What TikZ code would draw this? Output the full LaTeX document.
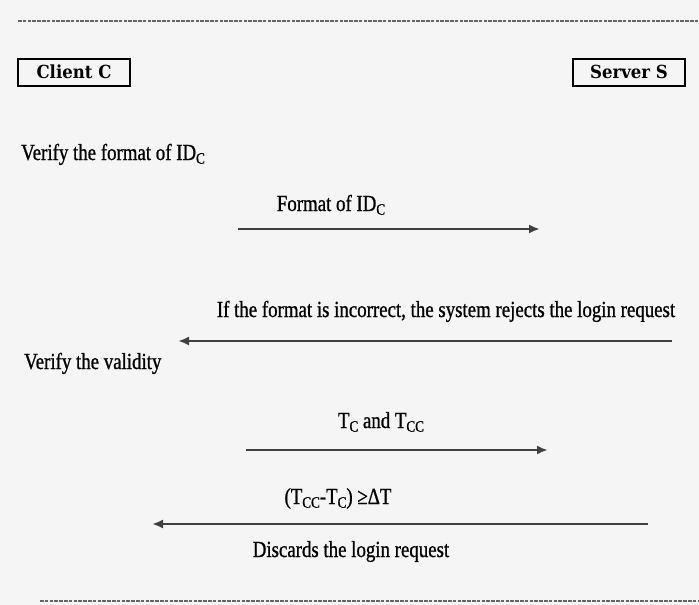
\documentclass[tikz,border=0pt]{standalone}
\usepackage{fontspec}
\setmainfont{Liberation Serif}[FakeStretch=0.82,FakeBold=0.9]
\newfontfamily\boxfont{DejaVu Serif}[FakeStretch=0.92]
\usepackage{tikz}
\usetikzlibrary{positioning,arrows.meta}
\newcommand{\lowc}[1]{\raisebox{-0.35ex}{\fontsize{16}{16}\selectfont #1}}

\begin{document}
\begin{tikzpicture}[x=1pt,y=-1pt,
    party/.style={draw,line width=2pt,inner sep=3pt,minimum width=112pt,minimum height=27pt,font=\boxfont\fontsize{18}{19}\selectfont\bfseries},
    label/.style={inner sep=0pt,anchor=base,font=\fontsize{23}{25}\selectfont},
    msg/.style={-{Latex[length=11pt,width=9pt]},line width=2.6pt,draw=black!75},
    sep/.style={line width=1.8pt,draw=black!60,dash pattern=on 3.5pt off 1.3pt}]
  \fill[black!4] (0,0) rectangle (699,605);
  \useasboundingbox (0,0) rectangle (699,605);

  % separators
  \coordinate (top1) at (18,21);
  \coordinate (top2) at (699,21);
  \coordinate (bot1) at (40,601);
  \coordinate (bot2) at (699,601);
  \draw[sep] (top1) -- (top2);
  \draw[sep] (bot1) -- (bot2);

  % parties
  \node[party](client) at (74,72){Client C};
  \node[party](server) at (629,72){Server S};

  % format check
  \node[label,anchor=base west](verfmt) at (21,160){Verify the format of ID\lowc{C}};
  \node[label](fmt) at (331,211){Format of ID\lowc{C}};
  \coordinate (a1s) at (238,229);
  \coordinate (a1e) at (540,229);
  \draw[msg] (a1s) -- (a1e);

  \node[label](reject) at (446,317){If the format is incorrect, the system rejects the login request};
  \coordinate (a2s) at (672,341);
  \coordinate (a2e) at (178,341);
  \draw[msg] (a2s) -- (a2e);

  % validity check
  \node[label,anchor=base west](vervalid) at (24,369){Verify the validity};
  \node[label](tc) at (381,428){T\lowc{C} and T\lowc{CC}};
  \coordinate (a3s) at (246,450);
  \coordinate (a3e) at (548,450);
  \draw[msg] (a3s) -- (a3e);

  \node[label](cond) at (338,504){(T\lowc{CC}-T\lowc{C}) ≥ΔT};
  \coordinate (a4s) at (648,524);
  \coordinate (a4e) at (152,524);
  \draw[msg] (a4s) -- (a4e);
  \node[label](disc) at (351,557){Discards the login request};
\end{tikzpicture}
\end{document}
